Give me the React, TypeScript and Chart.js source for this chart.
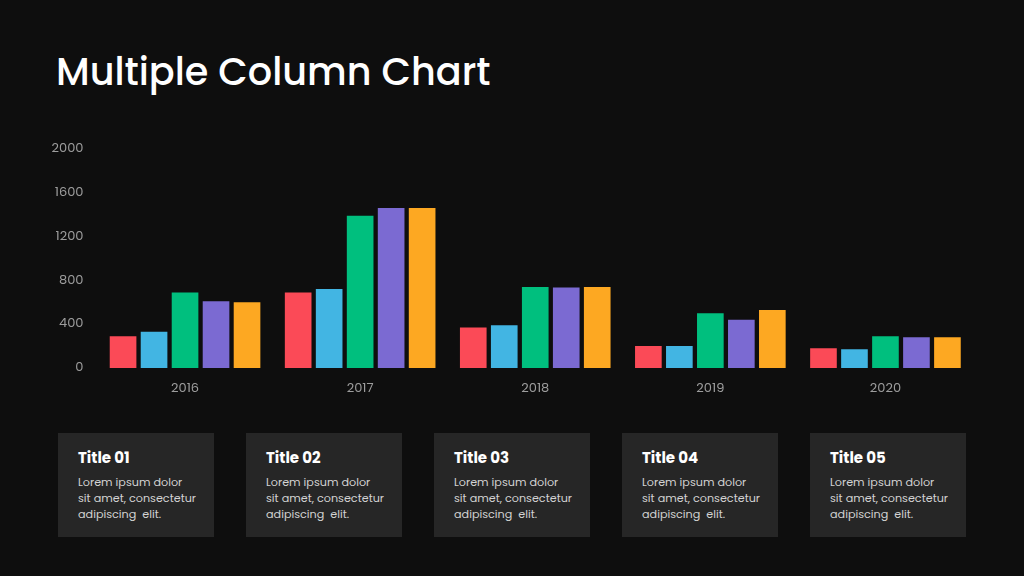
import { useEffect, useRef } from "react";
import { Chart, registerables, type ChartConfiguration } from "chart.js";

Chart.register(...registerables);

const years = ["2016", "2017", "2018", "2019", "2020"];
const series1 = [290, 690, 370, 200, 180];
const series2 = [330, 720, 390, 200, 170];
const series3 = [690, 1390, 740, 500, 290];
const series4 = [610, 1460, 735, 440, 280];
const series5 = [600, 1460, 740, 530, 280];
const seriesNames = ["Series 1", "Series 2", "Series 3", "Series 4", "Series 5"];
const seriesColors = ["#fb4a57", "#42b5e3", "#00bf7e", "#7b6ad2", "#fda822"];
const yTicks = [0, 400, 800, 1200, 1600, 2000];

const cardTitles = ["Title 01", "Title 02", "Title 03", "Title 04", "Title 05"];
const cardText = ["Lorem ipsum dolor", "sit amet, consectetur", "adipiscing  elit."];

const FONT = "Poppins, 'Open Sans', sans-serif";

function ColumnChart() {
  const canvasRef = useRef<HTMLCanvasElement | null>(null);
  const chartRef = useRef<Chart | null>(null);

  useEffect(() => {
    if (!canvasRef.current) return;
    const ctx = canvasRef.current.getContext("2d");
    if (!ctx) return;
    if (chartRef.current) chartRef.current.destroy();

    const values = [series1, series2, series3, series4, series5];

    const config: ChartConfiguration<"bar"> = {
      type: "bar",
      data: {
        labels: years,
        datasets: values.map((data, i) => ({
          label: seriesNames[i],
          data,
          backgroundColor: seriesColors[i],
          borderWidth: 0,
          categoryPercentage: 0.885,
          barPercentage: 0.86,
        })),
      },
      options: {
        animation: false,
        responsive: true,
        maintainAspectRatio: false,
        layout: { padding: 0 },
        plugins: {
          legend: { display: false },
          tooltip: { enabled: false },
        },
        scales: {
          x: {
            grid: { display: false, drawTicks: false },
            border: { display: false },
            ticks: {
              color: "#9d9d9d",
              padding: 13,
              font: { family: FONT, size: 13 },
            },
            afterFit: (scale) => {
              scale.height = 40;
            },
          },
          y: {
            min: 0,
            max: 2000,
            afterBuildTicks: (scale) => {
              scale.ticks = yTicks.map((v) => ({ value: v }));
            },
            grid: { display: false, drawTicks: false },
            border: { display: false },
            ticks: {
              color: "#9d9d9d",
              padding: 14,
              font: { family: FONT, size: 13 },
              callback: (v) => String(v),
            },
            afterFit: (scale) => {
              scale.width = 57.5;
            },
          },
        },
      },
    };

    chartRef.current = new Chart(ctx, config);

    return () => {
      if (chartRef.current) {
        chartRef.current.destroy();
        chartRef.current = null;
      }
    };
  }, []);

  return (
    <div style={{ position: "absolute", left: 40, top: 127, width: 933, height: 281 }}>
      <canvas ref={canvasRef} />
    </div>
  );
}

const cardLefts = [58, 246, 434, 622, 810];

export default function App() {
  return (
    <div
      style={{
        position: "fixed",
        left: 0,
        top: 0,
        width: 1024,
        height: 576,
        background: "#0e0e0e",
        fontFamily: FONT,
        overflow: "hidden",
      }}
    >
      <div
        style={{
          position: "absolute",
          left: 56,
          top: 49,
          color: "#ffffff",
          fontSize: 38.2,
          fontWeight: 500,
          lineHeight: "46px",
          whiteSpace: "nowrap",
        }}
      >
        Multiple Column Chart
      </div>
      <ColumnChart />
      {cardTitles.map((t, i) => (
        <div
          key={t}
          style={{
            position: "absolute",
            left: cardLefts[i],
            top: 433,
            width: 156,
            height: 104,
            background: "#262626",
            boxSizing: "border-box",
            padding: "15px 0 0 20px",
          }}
        >
          <div style={{ color: "#ffffff", fontWeight: 700, fontSize: 15, lineHeight: "20px" }}>{t}</div>
          <div style={{ marginTop: 6, color: "#d2d2d2", fontSize: 11.2, lineHeight: "16px", whiteSpace: "pre" }}>
            {cardText.join("\n")}
          </div>
        </div>
      ))}
    </div>
  );
}
